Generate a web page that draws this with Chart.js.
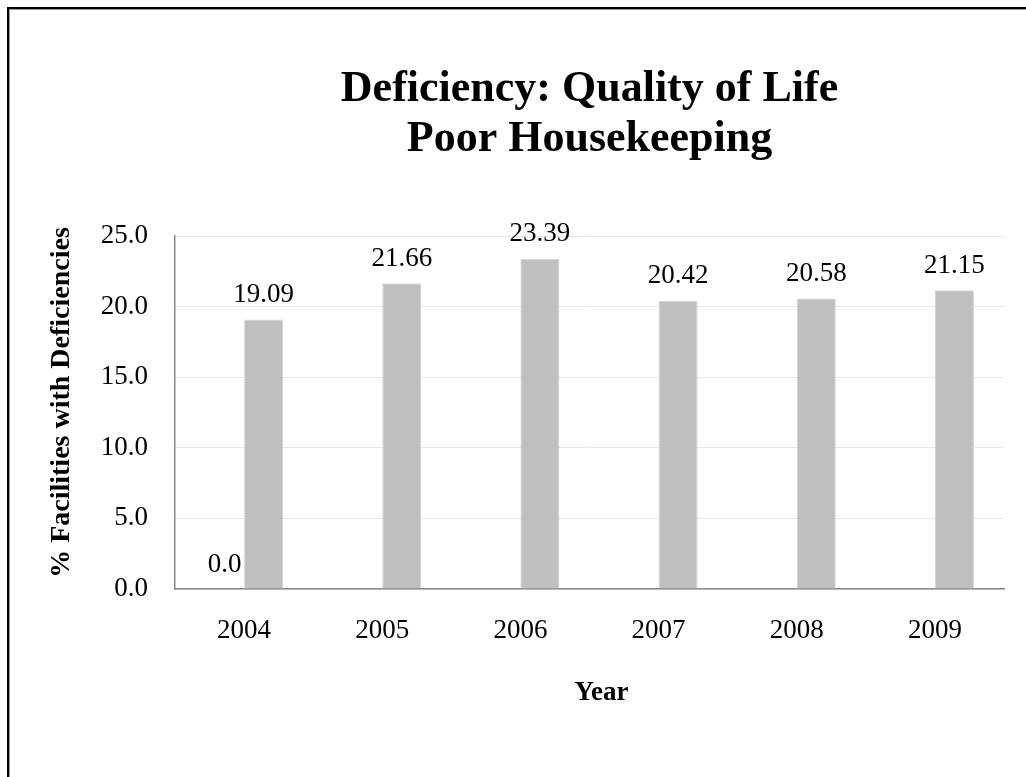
<!DOCTYPE html>
<html>
<head>
<meta charset="utf-8">
<script src="https://cdn.jsdelivr.net/npm/chart.js@4.4.1/dist/chart.umd.min.js"></script>
<style>
html,body{margin:0;padding:0;background:#fff;overflow:hidden}
canvas{display:block}
</style>
</head>
<body>
<canvas id="c" width="1026" height="777"></canvas>
<script>
// ---- data ----
const categories = ['2004', '2005', '2006', '2007', '2008', '2009'];
const seriesA = [0, null, null, null, null, null];
const seriesB = [19.09, 21.66, 23.39, 20.42, 20.58, 21.15];
const yTickMin = 0;
const yTickMax = 25;
const yTickStep = 5;
const titleLines = ['Deficiency: Quality of Life', 'Poor Housekeeping'];
const yTitle = '% Facilities with Deficiencies';
const xTitle = 'Year';

// ---- style ----
const FONT = "'Liberation Serif', 'Times New Roman', serif";

const frame = {
  id: 'frame',
  beforeDraw(chart) {
    const ctx = chart.ctx;
    ctx.save();
    ctx.fillStyle = '#fff';
    ctx.fillRect(0, 0, chart.width, chart.height);
    ctx.fillStyle = '#000';
    ctx.fillRect(7, 7, chart.width - 7, 2);
    ctx.fillRect(7, 7, 2, chart.height - 7);
    ctx.fillStyle = '#9a9a9a';
    ctx.fillRect(9, 9, chart.width - 9, 1);
    ctx.fillRect(9, 9, 1, chart.height - 9);
    ctx.restore();
  }
};

const axisTitles = {
  id: 'axisTitles',
  afterDraw(chart) {
    const ctx = chart.ctx;
    const a = chart.chartArea;
    ctx.save();
    ctx.fillStyle = '#000';
    ctx.textAlign = 'center';
    ctx.textBaseline = 'middle';
    ctx.font = 'bold 27px ' + FONT;
    ctx.fillText(xTitle, (a.left + a.right) / 2 + 12, a.bottom + 104);
    ctx.font = 'bold 28px ' + FONT;
    ctx.translate(62, (a.top + a.bottom) / 2 - 10);
    ctx.rotate(-Math.PI / 2);
    ctx.fillText(yTitle, 0, 0);
    ctx.restore();
  }
};

const valueLabels = {
  id: 'valueLabels',
  afterDatasetsDraw(chart) {
    const ctx = chart.ctx;
    ctx.save();
    ctx.font = '27px ' + FONT;
    ctx.fillStyle = '#000';
    ctx.textAlign = 'center';
    ctx.textBaseline = 'alphabetic';
    chart.data.datasets.forEach((ds, i) => {
      const meta = chart.getDatasetMeta(i);
      meta.data.forEach((el, j) => {
        const v = ds.data[j];
        if (v === null || v === undefined) return;
        ctx.fillText(v.toFixed(ds.labelDecimals), el.x, el.y - 17.5);
      });
    });
    ctx.restore();
  }
};

new Chart(document.getElementById('c'), {
  type: 'bar',
  data: {
    labels: categories,
    datasets: [
      {
        label: 'Series 1',
        data: seriesA,
        backgroundColor: '#BFBFBF',
        borderWidth: 0,
        labelDecimals: 1,
        categoryPercentage: 0.565,
        barPercentage: 1.0
      },
      {
        label: 'Series 2',
        data: seriesB,
        backgroundColor: '#BFBFBF',
        borderColor: '#d4d4d4',
        borderWidth: 1,
        labelDecimals: 2,
        categoryPercentage: 0.565,
        barPercentage: 1.0
      }
    ]
  },
  options: {
    responsive: false,
    animation: false,
    devicePixelRatio: 1,
    layout: { padding: { left: 0, right: 22, top: 0, bottom: 0 } },
    plugins: {
      legend: { display: false },
      tooltip: { enabled: false },
      title: {
        display: true,
        fullSize: false,
        text: titleLines,
        color: '#000',
        font: { family: FONT, size: 44, weight: 'bold', lineHeight: 50 / 44 },
        padding: { top: 65, bottom: 71 }
      }
    },
    scales: {
      x: {
        grid: { display: false, drawTicks: false },
        border: { display: true, color: '#898989', width: 1.5 },
        ticks: { color: '#000', font: { family: FONT, size: 27 }, padding: 26 },
        afterFit: s => { s.height = 188; }
      },
      y: {
        min: yTickMin,
        max: yTickMax,
        grid: { color: '#e6e6e6', drawTicks: false },
        border: { display: true, color: '#898989', width: 1.5 },
        ticks: {
          stepSize: yTickStep,
          color: '#000',
          font: { family: FONT, size: 27 },
          padding: 27,
          callback: v => Number(v).toFixed(1)
        },
        afterFit: s => { s.width = 175; }
      }
    }
  },
  plugins: [frame, valueLabels, axisTitles]
});
</script>
</body>
</html>
